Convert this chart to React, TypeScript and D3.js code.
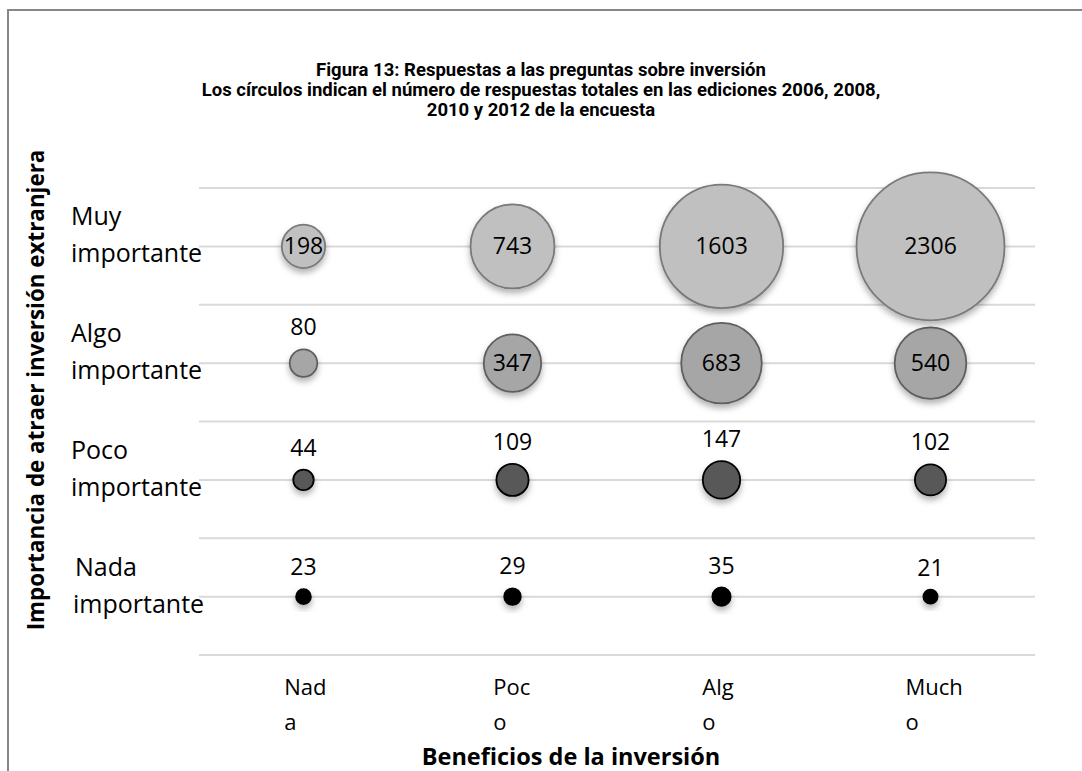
import React from "react";
import * as d3 from "d3";

const benefits = ["Nada", "Poco", "Algo", "Mucho"];
const benefitLines = [["Nad", "a"], ["Poc", "o"], ["Alg", "o"], ["Much", "o"]];
const importance = ["Nada importante", "Poco importante", "Algo importante", "Muy importante"];
const importanceLines = [["Nada", "importante"], ["Poco", "importante"], ["Algo", "importante"], ["Muy", "importante"]];
// values per importance row (Nada, Poco, Algo, Muy) across benefits (Nada, Poco, Algo, Mucho)
const nadaImportante = [23, 29, 35, 21];
const pocoImportante = [44, 109, 147, 102];
const algoImportante = [80, 347, 683, 540];
const muyImportante = [198, 743, 1603, 2306];
const seriesValues = [nadaImportante, pocoImportante, algoImportante, muyImportante];
const gridTicks = [0.5, 1, 1.5, 2, 2.5, 3, 3.5, 4, 4.5];
const titleLines = [
  "Figura 13: Respuestas a las preguntas sobre inversión",
  "Los círculos indican el número de respuestas totales en las ediciones 2006, 2008,",
  "2010 y 2012 de la encuesta",
];

const fills = ["#000000", "#595959", "#a6a6a6", "#c0c0c0"];
const strokes = ["#000000", "#000000", "#5f5f5f", "#7a7a7a"];

export default function App() {
  const W = 1082, H = 771;
  const x = d3.scaleLinear().domain([0.5, 4.5]).range([199, 1035]);
  const y = d3.scaleLinear().domain([0.5, 4.5]).range([655, 188]);
  const maxV = d3.max(seriesValues.flat()) as number;
  const r = d3.scaleSqrt().domain([0, maxV]).range([0, 74]);
  const font = "'Open Sans', sans-serif";

  const bubbles: any[] = [];
  seriesValues.forEach((row, ri) => {
    row.forEach((v, ci) => bubbles.push({ ri, ci, v }));
  });
  return (
    <div style={{ position: "absolute", left: 0, top: 0 }}>
      <svg width={W} height={H} style={{ display: "block", background: "#fff" }}>
        <defs>
          <filter id="sh" x="-50%" y="-50%" width="200%" height="200%">
            <feDropShadow dx="0" dy="4" stdDeviation="3" floodColor="#000" floodOpacity="0.3" />
          </filter>
        </defs>
        <line x1={8} y1={10} x2={W} y2={10} stroke="#878787" strokeWidth={2} />
        <line x1={8} y1={9} x2={8} y2={H} stroke="#878787" strokeWidth={2} />
        {titleLines.map((t, i) => (
          <text key={i} x={541} y={76 + i * 20} textAnchor="middle" fontFamily="Roboto, sans-serif" fontWeight="bold" fontSize={18.5} fill="#000">
            {t}
          </text>
        ))}
        {gridTicks.map((t) => (
          <line key={t} x1={x(0.5)} x2={x(4.5)} y1={y(t)} y2={y(t)} stroke="#d9d9d9" strokeWidth={2} />
        ))}
        {importanceLines.map((lines, i) => (
          <g key={i}>
            <text x={i === 0 ? 75 : 71} y={y(i + 1) - 21} fontFamily={font} fontSize={25} fill="#000">{lines[0]}</text>
            <text x={i === 0 ? 73 : 71} y={y(i + 1) + 16} fontFamily={font} fontSize={25} fill="#000">{lines[1]}</text>
          </g>
        ))}
        {benefitLines.map((lines, i) => {
          const w = lines[0].length * 11.5;
          const sx = x(i + 1) - w / 2 - 2;
          return (
            <g key={i}>
              <text x={sx} y={695} fontFamily={font} fontSize={22} fill="#000">{lines[0]}</text>
              <text x={sx} y={730} fontFamily={font} fontSize={22} fill="#000">{lines[1]}</text>
            </g>
          );
        })}
        {bubbles.map((b, i) => (
          <circle key={i} cx={x(b.ci + 1)} cy={y(b.ri + 1)} r={r(b.v)} fill={fills[b.ri]} stroke={strokes[b.ri]} strokeWidth={1.8} filter="url(#sh)" />
        ))}
        {bubbles.map((b, i) => {
          const inside = b.v >= 150;
          const cy = inside ? y(b.ri + 1) : y(b.ri + 1) - r(b.v) - 22;
          return (
            <text key={i} x={x(b.ci + 1)} y={cy} dy="0.35em" textAnchor="middle" fontFamily={font} fontSize={23} fill="#000">
              {b.v}
            </text>
          );
        })}
        <text transform={`translate(44,${390}) rotate(-90)`} textAnchor="middle" fontFamily={font} fontWeight="bold" fontSize={22.4} fill="#000">
          Importancia de atraer inversión extranjera
        </text>
        <text x={571} y={765} textAnchor="middle" fontFamily={font} fontWeight="bold" fontSize={23.5} fill="#000">
          Beneficios de la inversión
        </text>
      </svg>
    </div>
  );
}
